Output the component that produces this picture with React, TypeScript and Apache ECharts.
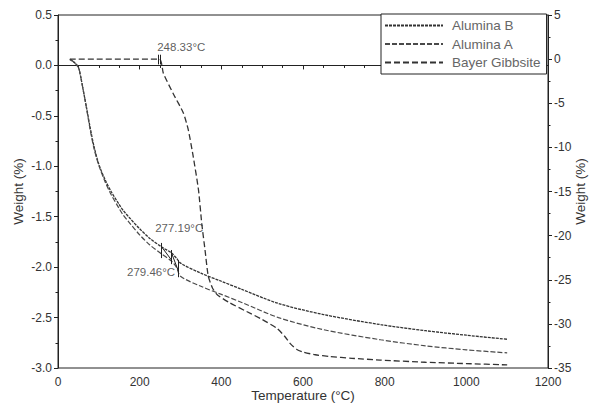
import React, { useEffect, useRef } from "react";
import * as echarts from "echarts";

// Temperatures (°C)
const tempAlumina = [29, 40, 50, 55, 62, 70, 78, 88, 100, 115, 130, 150, 160, 175, 200, 225, 254, 278, 290, 300, 350, 400, 450, 540, 650, 790, 900, 1000, 1100];
// Weight (%) left axis
const aluminaB = [0.06, 0.03, -0.02, -0.1, -0.25, -0.42, -0.6, -0.8, -0.98, -1.13, -1.25, -1.38, -1.44, -1.51, -1.62, -1.715, -1.8, -1.86, -1.91, -1.96, -2.06, -2.14, -2.22, -2.36, -2.47, -2.57, -2.63, -2.675, -2.715];
const aluminaA = [0.06, 0.03, -0.02, -0.1, -0.25, -0.43, -0.62, -0.82, -0.99, -1.15, -1.28, -1.42, -1.485, -1.56, -1.68, -1.78, -1.87, -1.94, -2.0, -2.09, -2.19, -2.27, -2.35, -2.5, -2.62, -2.72, -2.78, -2.82, -2.85];
// Bayer Gibbsite, right axis
const tempGibbsite = [29, 248, 258, 282, 307, 319, 331, 344, 352, 360, 368, 378, 390, 420, 462, 500, 536, 555, 570, 585, 601, 630, 666, 720, 789, 900, 1000, 1100];
const gibbsite = [0, 0, -1.6, -3.9, -6.1, -8.0, -11.0, -14.8, -18.6, -21.6, -24.6, -25.9, -26.7, -27.6, -28.6, -29.5, -30.5, -31.4, -32.3, -32.9, -33.2, -33.5, -33.7, -33.9, -34.1, -34.35, -34.5, -34.65];

const seriesNames = ["Alumina B", "Alumina A", "Bayer Gibbsite"];

// Onset annotations
const onsetLabelsLeft = [
  { name: "277.19°C", t: 238, w: -1.61 },
  { name: "279.46°C", t: 169, w: -2.05 },
];
const onsetLabelsRight = [{ name: "248.33°C", t: 243, w: 1.35 }];
// vertical tick marks [temperature, from, to]
const onsetTicksLeft = [
  [254, -1.76, -1.91],
  [278, -1.83, -1.97],
  [295, -1.93, -2.1],
];
const onsetLinksLeft = [
  [254, -1.8, 278, -1.93],
  [278, -1.86, 295, -2.04],
];
const onsetTicksRight = [
  [245, 0.5, -0.6],
  [250, 0.5, -0.6],
];

const zip = (xs: number[], ys: number[]) => xs.map((x, i) => [x, ys[i]]);

export default function App() {
  const ref = useRef<HTMLDivElement>(null);
  useEffect(() => {
    if (!ref.current) return;
    const chart = echarts.init(ref.current, undefined, { renderer: "svg" });
    const font = "Liberation Sans";
    const axisCommon = {
      axisLine: { show: true, lineStyle: { color: "#222", width: 1 } },
      axisTick: { show: true, inside: false, length: 4, lineStyle: { color: "#222" } },
      minorTick: { show: true, length: 2.5, lineStyle: { color: "#222" } },
      splitLine: { show: false },
      axisLabel: { color: "#333", fontSize: 12, fontFamily: font, margin: 4, hideOverlap: false, showMinLabel: true, showMaxLabel: true },
      nameTextStyle: { color: "#333", fontSize: 13.5, fontFamily: font },
    };
    const tickLines = (arr: number[][]) =>
      arr.map((d) => [{ coord: [d[0], d[1]] }, { coord: [d[0], d[2]] }]);
    chart.setOption({
      animation: false,
      textStyle: { fontFamily: font },
      grid: {
        left: 58,
        right: 43,
        top: 15,
        bottom: 37,
        containLabel: false,
        outerBoundsMode: "none",
        show: true,
        borderColor: "#222",
        borderWidth: 1,
      },
      legend: {
        data: seriesNames,
        orient: "vertical",
        left: 381,
        top: 14,
        padding: [4.5, 6, 4.5, 3],
        itemGap: 4.5,
        itemWidth: 58,
        itemHeight: 12,
        borderColor: "#222",
        borderWidth: 1,
        borderRadius: 0,
        backgroundColor: "#fff",
        itemStyle: { opacity: 0, color: "transparent", borderWidth: 0 },
        textStyle: { color: "#666", fontSize: 13.5, lineHeight: 13, fontFamily: font, padding: [0, 0, 0, 4] },
      },
      xAxis: {
        type: "value",
        min: 0,
        max: 1200,
        interval: 200,
        minorTick: { ...axisCommon.minorTick, splitNumber: 4 },
        axisLine: axisCommon.axisLine,
        axisTick: axisCommon.axisTick,
        splitLine: axisCommon.splitLine,
        axisLabel: { ...axisCommon.axisLabel, margin: 8, formatter: (v: number) => String(v) },
        name: "Temperature (°C)",
        nameLocation: "middle",
        nameGap: 20,
        nameMoveOverlap: false,
        nameTextStyle: axisCommon.nameTextStyle,
      },
      yAxis: [
        {
          type: "value",
          min: -3,
          max: 0.5,
          interval: 0.5,
          position: "left",
          minorTick: { ...axisCommon.minorTick, splitNumber: 2 },
          axisLine: axisCommon.axisLine,
          axisTick: axisCommon.axisTick,
          splitLine: axisCommon.splitLine,
          axisLabel: { ...axisCommon.axisLabel, align: "right", margin: 6, formatter: (v: number) => v.toFixed(1) },
          name: "Weight (%)",
          nameLocation: "middle",
          nameRotate: 90,
          nameGap: 33,
          nameMoveOverlap: false,
          nameTextStyle: axisCommon.nameTextStyle,
        },
        {
          type: "value",
          min: -35,
          max: 5,
          interval: 5,
          position: "right",
          minorTick: { ...axisCommon.minorTick, splitNumber: 2 },
          axisLine: axisCommon.axisLine,
          axisTick: axisCommon.axisTick,
          splitLine: axisCommon.splitLine,
          axisLabel: { ...axisCommon.axisLabel, align: "left", margin: 6, formatter: (v: number) => String(v) },
          name: "Weight (%)",
          nameLocation: "middle",
          nameRotate: 90,
          nameGap: 25,
          nameMoveOverlap: false,
          nameTextStyle: axisCommon.nameTextStyle,
        },
      ],
      series: [
        {
          name: "Alumina B",
          type: "line",
          yAxisIndex: 0,
          symbol: "none",
          smooth: 0.3,
          data: zip(tempAlumina, aluminaB),
          lineStyle: { color: "#333", width: 1.3, type: [3, 1] },
          itemStyle: { color: "#333" },
          markLine: {
            silent: true,
            symbol: "none",
            label: { show: false },
            lineStyle: { color: "#222", width: 1, type: "solid" },
            data: [
              ...tickLines(onsetTicksLeft),
              ...onsetLinksLeft.map((d) => [{ coord: [d[0], d[1]] }, { coord: [d[2], d[3]] }]),
            ],
          },
        },
        {
          name: "Alumina A",
          type: "line",
          yAxisIndex: 0,
          symbol: "none",
          smooth: 0.3,
          data: zip(tempAlumina, aluminaA),
          lineStyle: { color: "#4a4a4a", width: 1.2, type: [5, 2] },
          itemStyle: { color: "#4a4a4a" },
        },
        {
          name: "Bayer Gibbsite",
          type: "line",
          yAxisIndex: 1,
          symbol: "none",
          smooth: 0.2,
          data: zip(tempGibbsite, gibbsite),
          lineStyle: { color: "#333", width: 1.3, type: [6, 3] },
          itemStyle: { color: "#333" },
          markLine: {
            silent: true,
            symbol: "none",
            label: { show: false },
            lineStyle: { color: "#222", width: 1, type: "solid" },
            data: tickLines(onsetTicksRight),
          },
        },
        {
          name: "labelsLeft",
          type: "scatter",
          yAxisIndex: 0,
          symbolSize: 0,
          silent: true,
          data: onsetLabelsLeft.map((d) => ({ name: d.name, value: [d.t, d.w] })),
          label: { show: true, position: "right", distance: 0, formatter: "{b}", color: "#333", fontSize: 11.5, fontFamily: font },
        },
        {
          name: "labelsRight",
          type: "scatter",
          yAxisIndex: 1,
          symbolSize: 0,
          silent: true,
          data: onsetLabelsRight.map((d) => ({ name: d.name, value: [d.t, d.w] })),
          label: { show: true, position: "right", distance: 0, formatter: "{b}", color: "#333", fontSize: 11.5, fontFamily: font },
        },
      ],
    });
    return () => chart.dispose();
  }, []);
  return <div ref={ref} style={{ position: "absolute", left: 0, top: 0, width: 591, height: 405 }} />;
}
